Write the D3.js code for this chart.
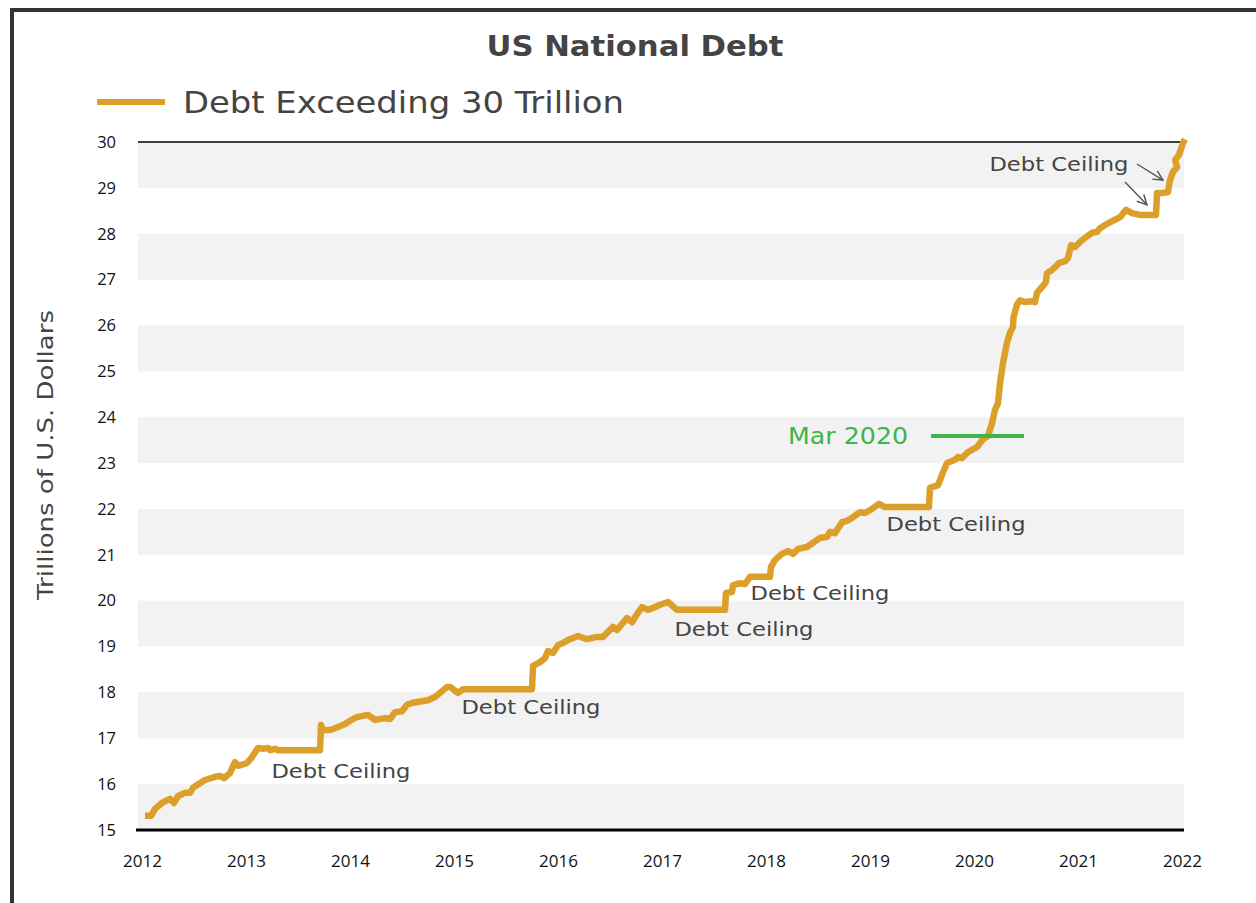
<!DOCTYPE html>
<html>
<head>
<meta charset="utf-8">
<script src="https://cdn.jsdelivr.net/npm/d3@7"></script>
<style>
  body { margin: 0; background: #fff; }
  svg { display: block; }
</style>
</head>
<body>
<div id="chart"></div>
<script>
// Debt series (decimal year, trillions)
const years = [
  2012.029, 2012.087, 2012.125, 2012.192, 2012.269, 2012.308, 2012.346, 2012.413, 2012.462, 2012.490,
  2012.606, 2012.702, 2012.750, 2012.788, 2012.846, 2012.894, 2012.923, 2013.010, 2013.058, 2013.115,
  2013.163, 2013.212, 2013.231, 2013.279, 2013.308, 2013.712, 2013.721, 2013.740, 2013.808, 2013.856,
  2013.952, 2014.029, 2014.067, 2014.173, 2014.240, 2014.337, 2014.385, 2014.433, 2014.500, 2014.548,
  2014.596, 2014.644, 2014.750, 2014.817, 2014.933, 2014.962, 2015.038, 2015.087, 2015.750, 2015.760,
  2015.827, 2015.875, 2015.904, 2015.952, 2016.000, 2016.048, 2016.096, 2016.192, 2016.279, 2016.375,
  2016.433, 2016.529, 2016.567, 2016.663, 2016.712, 2016.760, 2016.808, 2016.865, 2016.913, 2016.981,
  2017.058, 2017.144, 2017.606, 2017.615, 2017.673, 2017.683, 2017.750, 2017.798, 2017.846, 2018.038,
  2018.048, 2018.087, 2018.154, 2018.212, 2018.260, 2018.308, 2018.394, 2018.519, 2018.587, 2018.615,
  2018.663, 2018.731, 2018.779, 2018.837, 2018.904, 2018.952, 2019.019, 2019.087, 2019.144, 2019.567,
  2019.577, 2019.654, 2019.692, 2019.740, 2019.817, 2019.846, 2019.885, 2019.942, 2020.029, 2020.087,
  2020.135, 2020.173, 2020.202, 2020.231, 2020.250, 2020.279, 2020.317, 2020.346, 2020.375, 2020.380,
  2020.413, 2020.442, 2020.490, 2020.558, 2020.587, 2020.606, 2020.654, 2020.692, 2020.702, 2020.750,
  2020.779, 2020.817, 2020.875, 2020.904, 2020.933, 2020.971, 2021.019, 2021.067, 2021.135, 2021.183,
  2021.212, 2021.260, 2021.308, 2021.404, 2021.462, 2021.519, 2021.596, 2021.750, 2021.760, 2021.817,
  2021.865, 2021.885, 2021.913, 2021.952, 2021.935, 2021.971, 2022.010, 2022.029
];
const debt = [
  15.31, 15.31, 15.46, 15.59, 15.68, 15.59, 15.74, 15.81, 15.81, 15.92,
  16.09, 16.16, 16.18, 16.13, 16.24, 16.48, 16.40, 16.46, 16.59, 16.79,
  16.77, 16.79, 16.74, 16.77, 16.74, 16.74, 17.29, 17.18, 17.18, 17.22,
  17.31, 17.42, 17.46, 17.51, 17.40, 17.44, 17.42, 17.57, 17.59, 17.73,
  17.77, 17.79, 17.83, 17.90, 18.12, 18.12, 17.99, 18.07, 18.07, 18.58,
  18.66, 18.75, 18.90, 18.86, 19.03, 19.08, 19.14, 19.23, 19.16, 19.21,
  19.21, 19.43, 19.36, 19.62, 19.53, 19.71, 19.86, 19.80, 19.84, 19.91,
  19.97, 19.80, 19.80, 20.17, 20.19, 20.34, 20.38, 20.36, 20.52, 20.52,
  20.73, 20.89, 21.02, 21.08, 21.02, 21.13, 21.17, 21.37, 21.39, 21.50,
  21.47, 21.71, 21.74, 21.82, 21.93, 21.91, 22.00, 22.11, 22.04, 22.04,
  22.46, 22.52, 22.74, 23.00, 23.07, 23.13, 23.11, 23.24, 23.35, 23.52,
  23.59, 23.87, 24.16, 24.31, 24.74, 25.18, 25.62, 25.84, 25.97, 26.18,
  26.45, 26.55, 26.51, 26.53, 26.51, 26.71, 26.84, 26.95, 27.14, 27.21,
  27.27, 27.36, 27.40, 27.47, 27.75, 27.71, 27.82, 27.91, 28.02, 28.04,
  28.12, 28.19, 28.25, 28.36, 28.52, 28.45, 28.41, 28.41, 28.89, 28.89,
  28.91, 29.17, 29.35, 29.45, 29.61, 29.72, 29.98, 30.06
];

const xTicks = [2012, 2013, 2014, 2015, 2016, 2017, 2018, 2019, 2020, 2021, 2022];
const yTicks = [15, 16, 17, 18, 19, 20, 21, 22, 23, 24, 25, 26, 27, 28, 29, 30];
const bandStarts = [15, 17, 19, 21, 23, 25, 27, 29];

// "Debt Ceiling" labels (centre, in data units)
const ceilX = [2013.913, 2015.740, 2017.788, 2018.519, 2019.827, 2020.817];
const ceilY = [16.29, 17.68, 19.38, 20.17, 21.67, 29.52];
// arrows from the top label: [x1, y1, x2, y2]
const arrows = [
  [2021.452, 29.13, 2021.663, 28.63],
  [2021.567, 29.52, 2021.817, 29.17]
];
const marchLine = { x0: 2019.587, x1: 2020.481, y: 23.59, label: "Mar 2020" };

const W = 1256, H = 903;
const gold = "#DC9F2A", ink = "#444444", green = "#3DB54A";
const wide = "DejaVu Sans, sans-serif";
const tickFont = "Open Sans, sans-serif";

const svg = d3.select("#chart").append("svg")
  .attr("width", W).attr("height", H);

// frame (cropped on right and bottom)
svg.append("rect")
  .attr("x", 12).attr("y", 10)
  .attr("width", W + 20).attr("height", H + 20)
  .attr("fill", "none").attr("stroke", "#333").attr("stroke-width", 4);

const x = d3.scaleLinear().domain([2012, 2022]).range([142, 1182]);
const y = d3.scaleLinear().domain([15, 30]).range([830, 142]);

const left = x(2012) - 4, right = x(2022) + 2;

// grey bands
svg.append("g").selectAll("rect")
  .data(bandStarts)
  .enter().append("rect")
  .attr("x", left)
  .attr("width", right - left)
  .attr("y", (d) => y(d + 1))
  .attr("height", (d) => y(d) - y(d + 1))
  .attr("fill", "#F2F2F2");

// top line
svg.append("line")
  .attr("x1", left).attr("x2", right)
  .attr("y1", y(30)).attr("y2", y(30))
  .attr("stroke", "#000").attr("stroke-width", 1.5);

// axes
const yAxis = d3.axisLeft(y).tickValues(yTicks).tickSize(0).tickPadding(22);
const xAxis = d3.axisBottom(x).tickValues(xTicks).tickSize(0).tickPadding(25).tickFormat(d3.format("d"));

const gy = svg.append("g").attr("transform", `translate(${left},0)`).call(yAxis);
gy.select(".domain").remove();
gy.selectAll("text").attr("font-family", tickFont).attr("font-size", 16.5).attr("fill", "#111");

const gx = svg.append("g").attr("transform", `translate(0,${y(15)})`).call(xAxis);
gx.select(".domain").remove();
gx.selectAll("text").attr("font-family", tickFont).attr("font-size", 17).attr("fill", "#111");

// bottom axis line
svg.append("line")
  .attr("x1", left - 2).attr("x2", right)
  .attr("y1", y(15)).attr("y2", y(15))
  .attr("stroke", "#000").attr("stroke-width", 3);

// debt line
const line = d3.line().x((d) => x(d[0])).y((d) => y(d[1]));
svg.append("path")
  .datum(d3.zip(years, debt))
  .attr("d", line)
  .attr("fill", "none")
  .attr("stroke", gold)
  .attr("stroke-width", 6.5)
  .attr("stroke-linejoin", "round");

// march 2020 marker
svg.append("line")
  .attr("x1", x(marchLine.x0)).attr("x2", x(marchLine.x1))
  .attr("y1", y(marchLine.y)).attr("y2", y(marchLine.y))
  .attr("stroke", green).attr("stroke-width", 4);
svg.append("text")
  .attr("x", x(marchLine.x0) - 23)
  .attr("y", y(marchLine.y))
  .attr("dy", "0.36em")
  .attr("text-anchor", "end")
  .attr("font-family", wide)
  .attr("font-size", 23)
  .attr("textLength", 120)
  .attr("lengthAdjust", "spacingAndGlyphs")
  .attr("fill", green)
  .text(marchLine.label);

// debt ceiling labels
svg.append("g").selectAll("text")
  .data(d3.zip(ceilX, ceilY))
  .enter().append("text")
  .attr("x", (d) => x(d[0]))
  .attr("y", (d) => y(d[1]))
  .attr("dy", "0.36em")
  .attr("text-anchor", "middle")
  .attr("font-family", wide)
  .attr("font-size", 20)
  .attr("textLength", 139)
  .attr("lengthAdjust", "spacingAndGlyphs")
  .attr("fill", ink)
  .text("Debt Ceiling");

// open arrowheads
svg.append("defs").append("marker")
  .attr("id", "arr")
  .attr("viewBox", "0 0 10 10")
  .attr("refX", 9).attr("refY", 5)
  .attr("markerWidth", 12).attr("markerHeight", 12)
  .attr("markerUnits", "userSpaceOnUse")
  .attr("orient", "auto")
  .append("path")
  .attr("d", "M1,1 L9,5 L1,9")
  .attr("fill", "none").attr("stroke", "#555").attr("stroke-width", 1.2);

svg.append("g").selectAll("line")
  .data(arrows)
  .enter().append("line")
  .attr("x1", (d) => x(d[0])).attr("y1", (d) => y(d[1]))
  .attr("x2", (d) => x(d[2])).attr("y2", (d) => y(d[3]))
  .attr("stroke", "#555").attr("stroke-width", 1.4)
  .attr("marker-end", "url(#arr)");

// title
svg.append("text")
  .attr("x", 635).attr("y", 56)
  .attr("text-anchor", "middle")
  .attr("font-family", wide)
  .attr("font-weight", 700)
  .attr("font-size", 28)
  .attr("textLength", 297)
  .attr("lengthAdjust", "spacingAndGlyphs")
  .attr("fill", ink)
  .text("US National Debt");

// legend
svg.append("line")
  .attr("x1", 97).attr("x2", 165).attr("y1", 102).attr("y2", 102)
  .attr("stroke", gold).attr("stroke-width", 6);
svg.append("text")
  .attr("x", 183).attr("y", 113)
  .attr("font-family", wide)
  .attr("font-size", 30)
  .attr("textLength", 441)
  .attr("lengthAdjust", "spacingAndGlyphs")
  .attr("fill", ink)
  .text("Debt Exceeding 30 Trillion");

// y axis title
svg.append("text")
  .attr("transform", "translate(53,455) rotate(-90)")
  .attr("text-anchor", "middle")
  .attr("font-family", wide)
  .attr("font-size", 21)
  .attr("textLength", 290)
  .attr("lengthAdjust", "spacingAndGlyphs")
  .attr("fill", ink)
  .text("Trillions of U.S. Dollars");
</script>
</body>
</html>
